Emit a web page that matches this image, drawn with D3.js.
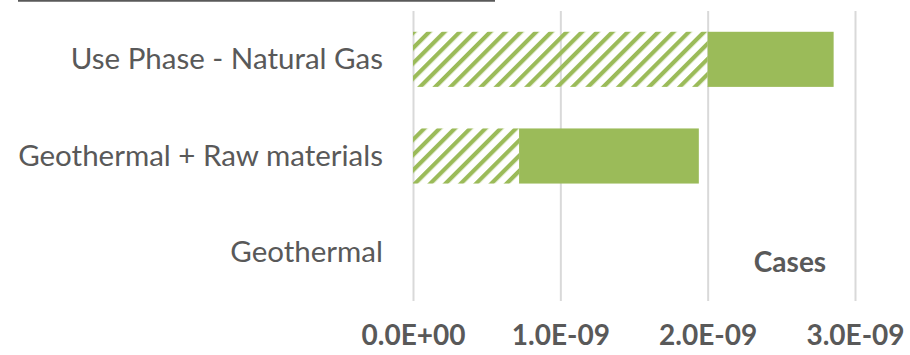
<!DOCTYPE html>
<html>
<head>
<meta charset="utf-8">
<script src="https://cdn.jsdelivr.net/npm/d3@7/dist/d3.min.js"></script>
<style>
  html, body { margin: 0; padding: 0; background: #fff; }
  svg { display: block; }
  text { font-family: Lato, "Open Sans", sans-serif; fill: #595959; }
</style>
</head>
<body>
<svg id="chart" width="910" height="355"></svg>
<script>
// Cases, top to bottom
const categories = ["Use Phase - Natural Gas", "Geothermal + Raw materials", "Geothermal"];
// Hatched segment (first contribution) and solid segment (remaining contribution)
const hatchedValues = [2.0e-9, 0.72e-9, 0];
const solidValues = [0.855e-9, 1.22e-9, 0];
const xTicks = [0, 1e-9, 2e-9, 3e-9];
const axisTitle = "Cases";

const green = "#9BBB59";
const svg = d3.select("#chart");

const plot = { left: 413, right: 855, top: 11, bottom: 301 };

const x = d3.scaleLinear().domain([0, 3e-9]).range([plot.left, plot.right]);
const y = d3.scaleBand().domain(categories).range([plot.top, plot.bottom]).paddingInner(0.43).paddingOuter(0.215);

// Upward diagonal hatch
const defs = svg.append("defs");
const pat = defs.append("pattern")
  .attr("id", "hatch")
  .attr("patternUnits", "userSpaceOnUse")
  .attr("width", 10.8).attr("height", 10.8)
  .attr("patternTransform", "rotate(45)");
pat.append("rect").attr("x", 0).attr("y", 0).attr("width", 4.2).attr("height", 10.8).attr("fill", green);

// Rule across the top edge
svg.append("line")
  .attr("x1", 18).attr("x2", 495).attr("y1", 0.75).attr("y2", 0.75)
  .attr("stroke", "#595959").attr("stroke-width", 2);

// Vertical gridlines and value labels
const xAxis = d3.axisBottom(x).tickValues(xTicks)
  .tickSize(plot.bottom - plot.top)
  .tickFormat(d => d3.format(".1e")(d).replace(/e([+-])(\d)$/, "e$10$2").toUpperCase());

const gx = svg.append("g").attr("transform", `translate(0,${plot.top})`).call(xAxis);
gx.select(".domain").remove();
gx.selectAll(".tick line").attr("stroke", "#D9D9D9").attr("stroke-width", 2);
gx.selectAll(".tick text")
  .attr("y", plot.bottom - plot.top + 44)
  .attr("dy", 0)
  .style("font-size", "28px").style("font-weight", "bold")
  .style("font-family", "Lato, 'Open Sans', sans-serif")
  .attr("fill", "#595959");

// Category labels
const yAxis = d3.axisLeft(y).tickSize(0).tickPadding(0);
const gy = svg.append("g").attr("transform", `translate(383,0)`).call(yAxis);
gy.select(".domain").remove();
gy.selectAll(".tick text")
  .attr("dy", "0.33em")
  .style("font-size", "29.5px")
  .style("font-family", "Lato, 'Open Sans', sans-serif")
  .attr("fill", "#595959");

// Stacked bars
const rows = categories.map((c, i) => ({ c, h: hatchedValues[i], s: solidValues[i] }));
const bars = svg.append("g");
bars.selectAll("rect.hatched").data(rows).join("rect")
  .attr("class", "hatched")
  .attr("x", d => x(0))
  .attr("y", d => y(d.c))
  .attr("width", d => x(d.h) - x(0))
  .attr("height", y.bandwidth())
  .attr("fill", "url(#hatch)");
bars.selectAll("rect.solid").data(rows).join("rect")
  .attr("class", "solid")
  .attr("x", d => x(d.h))
  .attr("y", d => y(d.c))
  .attr("width", d => x(d.h + d.s) - x(d.h))
  .attr("height", y.bandwidth())
  .attr("fill", green);

// Axis title inside the plot
svg.append("text")
  .attr("x", 790).attr("y", 272)
  .attr("text-anchor", "middle")
  .style("font-size", "28px").style("font-weight", "bold")
  .text(axisTitle);
</script>
</body>
</html>
